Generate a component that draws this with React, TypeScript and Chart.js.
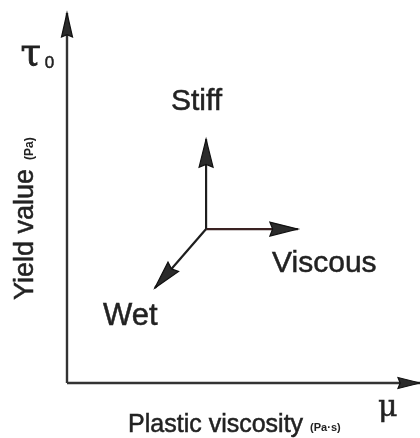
import React, { useEffect, useRef } from 'react';
import { Chart, registerables } from 'chart.js';

Chart.register(...registerables);

// ---- data (in plot units, axes run 0..100) ----
const axisRange = [0, 100];
const directions = ['Stiff', 'Viscous', 'Wet'];
const centre = [39.4, 41.6];
const tipX = [39.4, 65.4, 24.9];
const tipY = [65.9, 41.6, 25.7];
const axisTitles = ['Plastic viscosity', 'Yield value'];
const axisUnits = ['(Pa·s)', '(Pa)'];
const axisSymbols = ['μ', 'τ', '0'];

const INK = '#222';
const SANS = '"Liberation Sans", Arial, Helvetica, sans-serif';
const SERIF = '"DejaVu Serif", "Liberation Serif", serif';

export default function App() {
  const ref = useRef<HTMLCanvasElement | null>(null);

  useEffect(() => {
    if (!ref.current) return;

    const arrowPlugin = {
      id: 'arrowHeads',
      afterDatasetsDraw(chart: any) {
        const ctx = chart.ctx;
        chart.data.datasets.forEach((ds: any, i: number) => {
          const head = ds.head;
          if (!head) return;
          const pts = chart.getDatasetMeta(i).data;
          const a = pts[pts.length - 2];
          const b = pts[pts.length - 1];
          const ang = Math.atan2(b.y - a.y, b.x - a.x);
          ctx.save();
          ctx.translate(b.x, b.y);
          ctx.rotate(ang);
          ctx.beginPath();
          ctx.moveTo(0, 0);
          ctx.lineTo(-head.len, -head.w);
          ctx.lineTo(-head.len * 0.9, 0);
          ctx.lineTo(-head.len, head.w);
          ctx.closePath();
          ctx.fillStyle = '#2b2b2b';
          ctx.fill();
          ctx.lineWidth = 1.2;
          ctx.strokeStyle = '#111';
          ctx.stroke();
          ctx.restore();
        });
      },
    };

    const labelPlugin = {
      id: 'textLabels',
      afterDraw(chart: any) {
        const ctx = chart.ctx;
        const xs = chart.scales.x;
        const ys = chart.scales.y;
        const px = (v: number) => xs.getPixelForValue(v);
        const py = (v: number) => ys.getPixelForValue(v);
        const put = (
          t: string,
          x: number,
          y: number,
          font: string,
          align: CanvasTextAlign = 'left',
          rot = 0,
          stroke = 0.5
        ) => {
          ctx.save();
          ctx.translate(x, y);
          if (rot) ctx.rotate(rot);
          ctx.font = font;
          ctx.fillStyle = INK;
          ctx.strokeStyle = INK;
          ctx.textAlign = align;
          ctx.textBaseline = 'alphabetic';
          ctx.fillText(t, 0, 0);
          if (stroke > 0) {
            ctx.lineWidth = stroke;
            ctx.strokeText(t, 0, 0);
          }
          ctx.restore();
        };
        ctx.save();
        // direction labels
        put(directions[0], px(36.7), py(73.8), `30px ${SANS}`, 'center');
        put(directions[1], px(58.1), py(30.0), `30px ${SANS}`, 'left');
        put(directions[2], px(10.2), py(15.7), `31px ${SANS}`, 'left');

        // x-axis title
        const xf = `25px ${SANS}`;
        ctx.font = xf;
        const xw = ctx.measureText(axisTitles[0]).width;
        const xl = px(17.3);
        const xb = py(-13.2);
        put(axisTitles[0], xl, xb, xf);
        put(axisUnits[0], xl + xw + 7, xb - 1, `bold 11px ${SANS}`, 'left', 0, 0);

        // y-axis title (rotated)
        const yf = `27px ${SANS}`;
        ctx.font = yf;
        const yw = ctx.measureText(axisTitles[1]).width;
        const yx = px(-9.6);
        const yy = py(22.4);
        put(axisTitles[1], yx, yy, yf, 'left', -Math.PI / 2);
        put(axisUnits[1], yx, yy - yw - 9, `bold 12px ${SANS}`, 'left', -Math.PI / 2, 0);

        // symbols
        put(axisSymbols[0], px(88.1), py(-9.0), `30px ${SERIF}`);
        put(axisSymbols[1], px(-13.2), py(85.9), `37px ${SERIF}`, 'left', 0, 0.8);
        put(axisSymbols[2], px(-6.3), py(85.2), `17px ${SANS}`);
        ctx.restore();
      },
    };

    const seg = (x0: number, y0: number, x1: number, y1: number) => [
      { x: x0, y: y0 },
      { x: x1, y: y1 },
    ];

    const datasets: any[] = [
      {
        label: 'y-axis',
        data: seg(axisRange[0], axisRange[0], axisRange[0], axisRange[1]),
        borderColor: '#333',
        borderWidth: 2.4,
        head: { len: 24, w: 5.5 },
      },
      {
        label: 'x-axis',
        data: seg(axisRange[0], axisRange[0], axisRange[1], axisRange[0]),
        borderColor: '#333',
        borderWidth: 2.4,
        head: { len: 22, w: 5.5 },
      },
      ...directions.map((d, i) => ({
        label: d,
        data: seg(centre[0], centre[1], tipX[i], tipY[i]),
        borderColor: i === 1 ? '#3a2222' : '#1e1e1e',
        borderWidth: 2.2,
        head: { len: 28, w: 7 },
      })),
    ].map((ds) => ({
      ...ds,
      showLine: true,
      pointRadius: 0,
      pointHoverRadius: 0,
      fill: false,
      clip: false,
    }));

    const chart = new Chart(ref.current, {
      type: 'scatter',
      data: { datasets },
      options: {
        animation: false,
        responsive: false,
        maintainAspectRatio: false,
        devicePixelRatio: 1,
        layout: { padding: { left: 67, top: 13, right: 0, bottom: 55 } },
        plugins: {
          legend: { display: false },
          tooltip: { enabled: false },
          title: { display: false },
        },
        events: [],
        scales: {
          x: { type: 'linear', min: axisRange[0], max: axisRange[1], display: false },
          y: { type: 'linear', min: axisRange[0], max: axisRange[1], display: false },
        },
      },
      plugins: [arrowPlugin, labelPlugin],
    } as any);

    return () => chart.destroy();
  }, []);

  return (
    <div style={{ position: 'fixed', left: 0, top: 0, width: 420, height: 438, background: '#fff' }}>
      <canvas ref={ref} width={420} height={438} style={{ display: 'block', width: 420, height: 438 }} />
    </div>
  );
}
